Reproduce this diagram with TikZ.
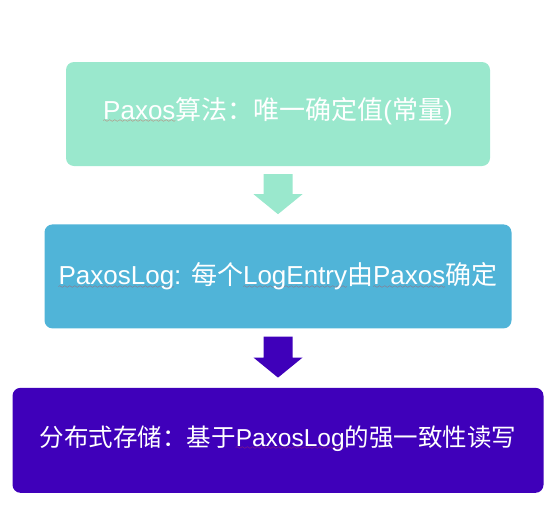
\documentclass[tikz,border=0pt]{standalone}
\usepackage{fontspec}
\setmainfont{Liberation Sans}
\newfontfamily\cjk{Noto Sans CJK SC}
\usetikzlibrary{positioning,calc}
\definecolor{paxosmint}{HTML}{9AE8CD}
\definecolor{logblue}{HTML}{50B4D8}
\definecolor{storepurple}{HTML}{3F00BA}
\definecolor{squigred}{HTML}{D23A3A}
\font\wavefnt=lasy6
\newcommand\spellmark[1]{\setbox0\hbox{#1}%
  \rlap{\lower3.5pt\hbox to\wd0{\color{squigred}\xleaders\hbox{\wavefnt\char58}\hfill}}\box0}
\newcommand\lift[2]{\raisebox{#1}[\height][\depth]{#2}}
% block arrow from one box to the next
\newcommand\flowarrow[3]{%
  \fill[#3] ($(#1.south)+(-14.5,8)$) -- ($(#1.south)+(14.5,8)$)
    -- ($(#2.north)+(14.5,-30)$) -- ($(#2.north)+(24.5,-30)$)
    -- ($(#2.north)+(0,-10)$) -- ($(#2.north)+(-24.5,-30)$)
    -- ($(#2.north)+(-14.5,-30)$) -- cycle;}

\begin{document}
\begin{tikzpicture}[x=1pt, y=-1pt,
  box/.style={rounded corners=8pt, minimum height=104pt, inner sep=0pt,
    text=white, font=\fontsize{26}{30}\selectfont}]
\useasboundingbox (0,0) rectangle (556,506);
\node[box, fill=paxosmint, minimum width=424pt] (algo) at (278,114)
  {\lift{3pt}{\spellmark{Paxos}{\cjk 算法：唯一确定值}({\cjk 常量})}};
\node[box, fill=logblue, minimum width=467pt, below=58pt of algo] (plog)
  {\spellmark{PaxosLog}: {\cjk 每个}\spellmark{LogEntry}{\cjk 由}\spellmark{Paxos}{\cjk 确定}};
\node[box, fill=storepurple, minimum width=531pt, minimum height=105pt,
  font=\fontsize{24.5}{29}\selectfont, below=59pt of plog] (store)
  {\lift{2pt}{{\cjk 分布式存储：基于}\spellmark{PaxosLog}{\cjk 的强一致性读写}}};
\flowarrow{algo}{plog}{paxosmint}
\flowarrow{plog}{store}{storepurple}
\end{tikzpicture}
\end{document}
